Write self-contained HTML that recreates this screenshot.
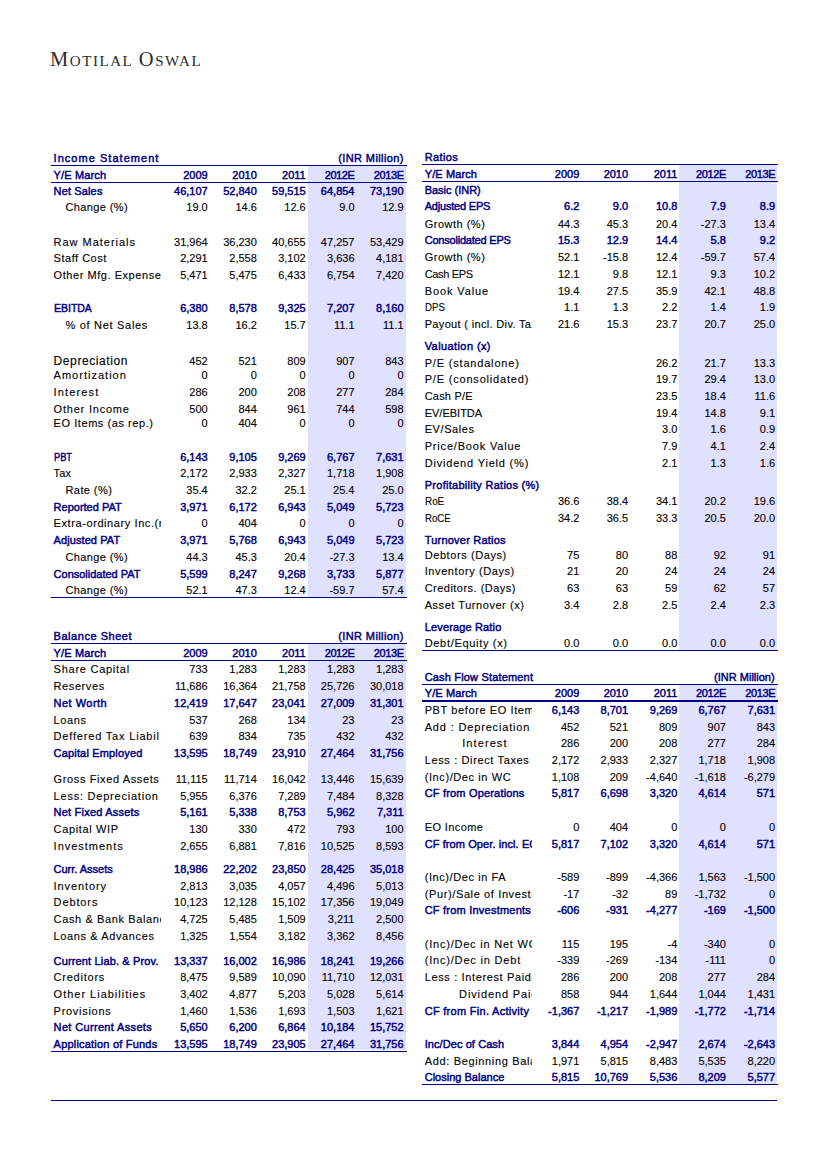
<!DOCTYPE html>
<html><head><meta charset="utf-8">
<style>
html,body{margin:0;padding:0;background:#fff;}
body{width:826px;height:1169px;position:relative;overflow:hidden;font-family:"Liberation Sans",sans-serif;}
.t{position:absolute;white-space:nowrap;line-height:20px;-webkit-text-stroke:0.12px #000;}
.ln{position:absolute;background:#000080;}
.sh{position:absolute;background:#e0e0ff;}
.logo{position:absolute;left:50px;top:43.5px;font-family:"Liberation Serif",serif;color:#2b2b2b;white-space:nowrap;line-height:30px;letter-spacing:1.55px;}
.logo .b{font-size:20.5px;}
.logo .s{font-size:15px;}
</style></head><body>
<div class="logo"><span class="b">M</span><span class="s">OTILAL</span> <span class="b">O</span><span class="s">SWAL</span></div>
<div class="sh" style="left:308.0px;top:166.3px;width:98.0px;height:430.7px"></div>
<div class="sh" style="left:308.0px;top:644.4px;width:98.0px;height:406.1px"></div>
<div class="sh" style="left:679.2px;top:164.8px;width:97.89999999999998px;height:485.2px"></div>
<div class="sh" style="left:679.2px;top:685.1px;width:97.89999999999998px;height:398.69999999999993px"></div>
<div class="t" style="top:148.1px;font-size:11px;color:#000080;-webkit-text-stroke:0.45px #000080;letter-spacing:1.033px;left:53.6px;">Income Statement</div>
<div class="t" style="top:148.1px;font-size:11px;color:#000080;-webkit-text-stroke:0.45px #000080;letter-spacing:0.4px;right:422.1px;text-align:right;">(INR Million)</div>
<div class="ln" style="left:51px;top:164.85px;width:355.7px;height:1.3px"></div>
<div class="t" style="top:165.1px;font-size:11px;color:#000080;-webkit-text-stroke:0.45px #000080;letter-spacing:0.15px;left:53.6px;">Y/E March</div>
<div class="t" style="top:165.1px;font-size:11px;color:#000080;-webkit-text-stroke:0.45px #000080;right:618.3px;text-align:right;">2009</div>
<div class="t" style="top:165.1px;font-size:11px;color:#000080;-webkit-text-stroke:0.45px #000080;right:569.2px;text-align:right;">2010</div>
<div class="t" style="top:165.1px;font-size:11px;color:#000080;-webkit-text-stroke:0.45px #000080;right:520.3px;text-align:right;">2011</div>
<div class="t" style="top:165.1px;font-size:11px;color:#000080;-webkit-text-stroke:0.45px #000080;letter-spacing:-0.4px;right:471.5px;text-align:right;">2012E</div>
<div class="t" style="top:165.1px;font-size:11px;color:#000080;-webkit-text-stroke:0.45px #000080;letter-spacing:-0.4px;right:422.4px;text-align:right;">2013E</div>
<div class="ln" style="left:51px;top:181.85px;width:355.7px;height:1.3px"></div>
<div class="t" style="top:181.0px;font-size:11px;color:#000080;-webkit-text-stroke:0.45px #000080;letter-spacing:0.137px;left:53.6px;">Net Sales</div>
<div class="t" style="top:181.0px;font-size:11px;color:#000080;-webkit-text-stroke:0.45px #000080;right:618.3px;text-align:right;">46,107</div>
<div class="t" style="top:181.0px;font-size:11px;color:#000080;-webkit-text-stroke:0.45px #000080;right:569.2px;text-align:right;">52,840</div>
<div class="t" style="top:181.0px;font-size:11px;color:#000080;-webkit-text-stroke:0.45px #000080;right:520.3px;text-align:right;">59,515</div>
<div class="t" style="top:181.0px;font-size:11px;color:#000080;-webkit-text-stroke:0.45px #000080;right:471.5px;text-align:right;">64,854</div>
<div class="t" style="top:181.0px;font-size:11px;color:#000080;-webkit-text-stroke:0.45px #000080;right:422.4px;text-align:right;">73,190</div>
<div class="t" style="top:197.3px;font-size:11px;color:#000;letter-spacing:0.389px;left:65.5px;">Change (%)</div>
<div class="t" style="top:197.3px;font-size:11px;color:#000;right:618.3px;text-align:right;">19.0</div>
<div class="t" style="top:197.3px;font-size:11px;color:#000;right:569.2px;text-align:right;">14.6</div>
<div class="t" style="top:197.3px;font-size:11px;color:#000;right:520.3px;text-align:right;">12.6</div>
<div class="t" style="top:197.3px;font-size:11px;color:#000;right:471.5px;text-align:right;">9.0</div>
<div class="t" style="top:197.3px;font-size:11px;color:#000;right:422.4px;text-align:right;">12.9</div>
<div class="t" style="top:231.8px;font-size:11px;color:#000;letter-spacing:0.976px;left:53.6px;">Raw Materials</div>
<div class="t" style="top:231.8px;font-size:11px;color:#000;right:618.3px;text-align:right;">31,964</div>
<div class="t" style="top:231.8px;font-size:11px;color:#000;right:569.2px;text-align:right;">36,230</div>
<div class="t" style="top:231.8px;font-size:11px;color:#000;right:520.3px;text-align:right;">40,655</div>
<div class="t" style="top:231.8px;font-size:11px;color:#000;right:471.5px;text-align:right;">47,257</div>
<div class="t" style="top:231.8px;font-size:11px;color:#000;right:422.4px;text-align:right;">53,429</div>
<div class="t" style="top:248.3px;font-size:11px;color:#000;letter-spacing:0.511px;left:53.6px;">Staff Cost</div>
<div class="t" style="top:248.3px;font-size:11px;color:#000;right:618.3px;text-align:right;">2,291</div>
<div class="t" style="top:248.3px;font-size:11px;color:#000;right:569.2px;text-align:right;">2,558</div>
<div class="t" style="top:248.3px;font-size:11px;color:#000;right:520.3px;text-align:right;">3,102</div>
<div class="t" style="top:248.3px;font-size:11px;color:#000;right:471.5px;text-align:right;">3,636</div>
<div class="t" style="top:248.3px;font-size:11px;color:#000;right:422.4px;text-align:right;">4,181</div>
<div class="t" style="top:265.2px;font-size:11px;color:#000;letter-spacing:0.552px;left:53.6px;">Other Mfg. Expense</div>
<div class="t" style="top:265.2px;font-size:11px;color:#000;right:618.3px;text-align:right;">5,471</div>
<div class="t" style="top:265.2px;font-size:11px;color:#000;right:569.2px;text-align:right;">5,475</div>
<div class="t" style="top:265.2px;font-size:11px;color:#000;right:520.3px;text-align:right;">6,433</div>
<div class="t" style="top:265.2px;font-size:11px;color:#000;right:471.5px;text-align:right;">6,754</div>
<div class="t" style="top:265.2px;font-size:11px;color:#000;right:422.4px;text-align:right;">7,420</div>
<div class="t" style="top:298.1px;font-size:11px;color:#000080;-webkit-text-stroke:0.45px #000080;transform:scaleX(0.952);transform-origin:0 0;left:53.6px;">EBITDA</div>
<div class="t" style="top:298.1px;font-size:11px;color:#000080;-webkit-text-stroke:0.45px #000080;right:618.3px;text-align:right;">6,380</div>
<div class="t" style="top:298.1px;font-size:11px;color:#000080;-webkit-text-stroke:0.45px #000080;right:569.2px;text-align:right;">8,578</div>
<div class="t" style="top:298.1px;font-size:11px;color:#000080;-webkit-text-stroke:0.45px #000080;right:520.3px;text-align:right;">9,325</div>
<div class="t" style="top:298.1px;font-size:11px;color:#000080;-webkit-text-stroke:0.45px #000080;right:471.5px;text-align:right;">7,207</div>
<div class="t" style="top:298.1px;font-size:11px;color:#000080;-webkit-text-stroke:0.45px #000080;right:422.4px;text-align:right;">8,160</div>
<div class="t" style="top:315.0px;font-size:11px;color:#000;letter-spacing:0.7px;left:65.5px;">% of Net Sales</div>
<div class="t" style="top:315.0px;font-size:11px;color:#000;right:618.3px;text-align:right;">13.8</div>
<div class="t" style="top:315.0px;font-size:11px;color:#000;right:569.2px;text-align:right;">16.2</div>
<div class="t" style="top:315.0px;font-size:11px;color:#000;right:520.3px;text-align:right;">15.7</div>
<div class="t" style="top:315.0px;font-size:11px;color:#000;right:471.5px;text-align:right;">11.1</div>
<div class="t" style="top:315.0px;font-size:11px;color:#000;right:422.4px;text-align:right;">11.1</div>
<div class="t" style="top:350.5px;font-size:12px;color:#000;letter-spacing:0.591px;left:53.6px;">Depreciation</div>
<div class="t" style="top:350.9px;font-size:11px;color:#000;right:618.3px;text-align:right;">452</div>
<div class="t" style="top:350.9px;font-size:11px;color:#000;right:569.2px;text-align:right;">521</div>
<div class="t" style="top:350.9px;font-size:11px;color:#000;right:520.3px;text-align:right;">809</div>
<div class="t" style="top:350.9px;font-size:11px;color:#000;right:471.5px;text-align:right;">907</div>
<div class="t" style="top:350.9px;font-size:11px;color:#000;right:422.4px;text-align:right;">843</div>
<div class="t" style="top:365.1px;font-size:11px;color:#000;letter-spacing:1.009px;left:53.6px;">Amortization</div>
<div class="t" style="top:365.1px;font-size:11px;color:#000;right:618.3px;text-align:right;">0</div>
<div class="t" style="top:365.1px;font-size:11px;color:#000;right:569.2px;text-align:right;">0</div>
<div class="t" style="top:365.1px;font-size:11px;color:#000;right:520.3px;text-align:right;">0</div>
<div class="t" style="top:365.1px;font-size:11px;color:#000;right:471.5px;text-align:right;">0</div>
<div class="t" style="top:365.1px;font-size:11px;color:#000;right:422.4px;text-align:right;">0</div>
<div class="t" style="top:382.3px;font-size:11px;color:#000;letter-spacing:1.129px;left:53.6px;">Interest</div>
<div class="t" style="top:382.3px;font-size:11px;color:#000;right:618.3px;text-align:right;">286</div>
<div class="t" style="top:382.3px;font-size:11px;color:#000;right:569.2px;text-align:right;">200</div>
<div class="t" style="top:382.3px;font-size:11px;color:#000;right:520.3px;text-align:right;">208</div>
<div class="t" style="top:382.3px;font-size:11px;color:#000;right:471.5px;text-align:right;">277</div>
<div class="t" style="top:382.3px;font-size:11px;color:#000;right:422.4px;text-align:right;">284</div>
<div class="t" style="top:399.0px;font-size:11px;color:#000;letter-spacing:0.791px;left:53.6px;">Other Income</div>
<div class="t" style="top:399.0px;font-size:11px;color:#000;right:618.3px;text-align:right;">500</div>
<div class="t" style="top:399.0px;font-size:11px;color:#000;right:569.2px;text-align:right;">844</div>
<div class="t" style="top:399.0px;font-size:11px;color:#000;right:520.3px;text-align:right;">961</div>
<div class="t" style="top:399.0px;font-size:11px;color:#000;right:471.5px;text-align:right;">744</div>
<div class="t" style="top:399.0px;font-size:11px;color:#000;right:422.4px;text-align:right;">598</div>
<div class="t" style="top:413.1px;font-size:11px;color:#000;letter-spacing:0.559px;left:53.6px;">EO Items (as rep.)</div>
<div class="t" style="top:413.1px;font-size:11px;color:#000;right:618.3px;text-align:right;">0</div>
<div class="t" style="top:413.1px;font-size:11px;color:#000;right:569.2px;text-align:right;">404</div>
<div class="t" style="top:413.1px;font-size:11px;color:#000;right:520.3px;text-align:right;">0</div>
<div class="t" style="top:413.1px;font-size:11px;color:#000;right:471.5px;text-align:right;">0</div>
<div class="t" style="top:413.1px;font-size:11px;color:#000;right:422.4px;text-align:right;">0</div>
<div class="t" style="top:447.0px;font-size:11px;color:#000080;-webkit-text-stroke:0.45px #000080;transform:scaleX(0.841);transform-origin:0 0;left:53.6px;">PBT</div>
<div class="t" style="top:447.0px;font-size:11px;color:#000080;-webkit-text-stroke:0.45px #000080;right:618.3px;text-align:right;">6,143</div>
<div class="t" style="top:447.0px;font-size:11px;color:#000080;-webkit-text-stroke:0.45px #000080;right:569.2px;text-align:right;">9,105</div>
<div class="t" style="top:447.0px;font-size:11px;color:#000080;-webkit-text-stroke:0.45px #000080;right:520.3px;text-align:right;">9,269</div>
<div class="t" style="top:447.0px;font-size:11px;color:#000080;-webkit-text-stroke:0.45px #000080;right:471.5px;text-align:right;">6,767</div>
<div class="t" style="top:447.0px;font-size:11px;color:#000080;-webkit-text-stroke:0.45px #000080;right:422.4px;text-align:right;">7,631</div>
<div class="t" style="top:462.9px;font-size:11px;color:#000;letter-spacing:0.15px;left:53.6px;">Tax</div>
<div class="t" style="top:462.9px;font-size:11px;color:#000;right:618.3px;text-align:right;">2,172</div>
<div class="t" style="top:462.9px;font-size:11px;color:#000;right:569.2px;text-align:right;">2,933</div>
<div class="t" style="top:462.9px;font-size:11px;color:#000;right:520.3px;text-align:right;">2,327</div>
<div class="t" style="top:462.9px;font-size:11px;color:#000;right:471.5px;text-align:right;">1,718</div>
<div class="t" style="top:462.9px;font-size:11px;color:#000;right:422.4px;text-align:right;">1,908</div>
<div class="t" style="top:479.8px;font-size:11px;color:#000;letter-spacing:0.414px;left:65.5px;">Rate (%)</div>
<div class="t" style="top:479.8px;font-size:11px;color:#000;right:618.3px;text-align:right;">35.4</div>
<div class="t" style="top:479.8px;font-size:11px;color:#000;right:569.2px;text-align:right;">32.2</div>
<div class="t" style="top:479.8px;font-size:11px;color:#000;right:520.3px;text-align:right;">25.1</div>
<div class="t" style="top:479.8px;font-size:11px;color:#000;right:471.5px;text-align:right;">25.4</div>
<div class="t" style="top:479.8px;font-size:11px;color:#000;right:422.4px;text-align:right;">25.0</div>
<div class="t" style="top:496.7px;font-size:11px;color:#000080;-webkit-text-stroke:0.45px #000080;letter-spacing:0.0px;left:53.6px;">Reported PAT</div>
<div class="t" style="top:496.7px;font-size:11px;color:#000080;-webkit-text-stroke:0.45px #000080;right:618.3px;text-align:right;">3,971</div>
<div class="t" style="top:496.7px;font-size:11px;color:#000080;-webkit-text-stroke:0.45px #000080;right:569.2px;text-align:right;">6,172</div>
<div class="t" style="top:496.7px;font-size:11px;color:#000080;-webkit-text-stroke:0.45px #000080;right:520.3px;text-align:right;">6,943</div>
<div class="t" style="top:496.7px;font-size:11px;color:#000080;-webkit-text-stroke:0.45px #000080;right:471.5px;text-align:right;">5,049</div>
<div class="t" style="top:496.7px;font-size:11px;color:#000080;-webkit-text-stroke:0.45px #000080;right:422.4px;text-align:right;">5,723</div>
<div class="t" style="top:513.2px;font-size:11px;color:#000;letter-spacing:0.584px;left:53.6px;width:107.4px;overflow:hidden;">Extra-ordinary Inc.(net)</div>
<div class="t" style="top:513.2px;font-size:11px;color:#000;right:618.3px;text-align:right;">0</div>
<div class="t" style="top:513.2px;font-size:11px;color:#000;right:569.2px;text-align:right;">404</div>
<div class="t" style="top:513.2px;font-size:11px;color:#000;right:520.3px;text-align:right;">0</div>
<div class="t" style="top:513.2px;font-size:11px;color:#000;right:471.5px;text-align:right;">0</div>
<div class="t" style="top:513.2px;font-size:11px;color:#000;right:422.4px;text-align:right;">0</div>
<div class="t" style="top:530.1px;font-size:11px;color:#000080;-webkit-text-stroke:0.45px #000080;letter-spacing:0.082px;left:53.6px;">Adjusted PAT</div>
<div class="t" style="top:530.1px;font-size:11px;color:#000080;-webkit-text-stroke:0.45px #000080;right:618.3px;text-align:right;">3,971</div>
<div class="t" style="top:530.1px;font-size:11px;color:#000080;-webkit-text-stroke:0.45px #000080;right:569.2px;text-align:right;">5,768</div>
<div class="t" style="top:530.1px;font-size:11px;color:#000080;-webkit-text-stroke:0.45px #000080;right:520.3px;text-align:right;">6,943</div>
<div class="t" style="top:530.1px;font-size:11px;color:#000080;-webkit-text-stroke:0.45px #000080;right:471.5px;text-align:right;">5,049</div>
<div class="t" style="top:530.1px;font-size:11px;color:#000080;-webkit-text-stroke:0.45px #000080;right:422.4px;text-align:right;">5,723</div>
<div class="t" style="top:546.8px;font-size:11px;color:#000;letter-spacing:0.389px;left:65.5px;">Change (%)</div>
<div class="t" style="top:546.8px;font-size:11px;color:#000;right:618.3px;text-align:right;">44.3</div>
<div class="t" style="top:546.8px;font-size:11px;color:#000;right:569.2px;text-align:right;">45.3</div>
<div class="t" style="top:546.8px;font-size:11px;color:#000;right:520.3px;text-align:right;">20.4</div>
<div class="t" style="top:546.8px;font-size:11px;color:#000;right:471.5px;text-align:right;">-27.3</div>
<div class="t" style="top:546.8px;font-size:11px;color:#000;right:422.4px;text-align:right;">13.4</div>
<div class="t" style="top:563.5px;font-size:11px;color:#000080;-webkit-text-stroke:0.45px #000080;letter-spacing:-0.013px;left:53.6px;">Consolidated PAT</div>
<div class="t" style="top:563.5px;font-size:11px;color:#000080;-webkit-text-stroke:0.45px #000080;right:618.3px;text-align:right;">5,599</div>
<div class="t" style="top:563.5px;font-size:11px;color:#000080;-webkit-text-stroke:0.45px #000080;right:569.2px;text-align:right;">8,247</div>
<div class="t" style="top:563.5px;font-size:11px;color:#000080;-webkit-text-stroke:0.45px #000080;right:520.3px;text-align:right;">9,268</div>
<div class="t" style="top:563.5px;font-size:11px;color:#000080;-webkit-text-stroke:0.45px #000080;right:471.5px;text-align:right;">3,733</div>
<div class="t" style="top:563.5px;font-size:11px;color:#000080;-webkit-text-stroke:0.45px #000080;right:422.4px;text-align:right;">5,877</div>
<div class="t" style="top:580.0px;font-size:11px;color:#000;letter-spacing:0.389px;left:65.5px;">Change (%)</div>
<div class="t" style="top:580.0px;font-size:11px;color:#000;right:618.3px;text-align:right;">52.1</div>
<div class="t" style="top:580.0px;font-size:11px;color:#000;right:569.2px;text-align:right;">47.3</div>
<div class="t" style="top:580.0px;font-size:11px;color:#000;right:520.3px;text-align:right;">12.4</div>
<div class="t" style="top:580.0px;font-size:11px;color:#000;right:471.5px;text-align:right;">-59.7</div>
<div class="t" style="top:580.0px;font-size:11px;color:#000;right:422.4px;text-align:right;">57.4</div>
<div class="ln" style="left:51px;top:596.85px;width:355.7px;height:1.3px"></div>
<div class="t" style="top:625.9px;font-size:11px;color:#000080;-webkit-text-stroke:0.45px #000080;letter-spacing:0.533px;left:53.6px;">Balance Sheet</div>
<div class="t" style="top:625.9px;font-size:11px;color:#000080;-webkit-text-stroke:0.45px #000080;letter-spacing:0.4px;right:422.1px;text-align:right;">(INR Million)</div>
<div class="ln" style="left:51px;top:642.85px;width:355.7px;height:1.3px"></div>
<div class="t" style="top:643.0px;font-size:11px;color:#000080;-webkit-text-stroke:0.45px #000080;letter-spacing:0.15px;left:53.6px;">Y/E March</div>
<div class="t" style="top:643.0px;font-size:11px;color:#000080;-webkit-text-stroke:0.45px #000080;right:618.3px;text-align:right;">2009</div>
<div class="t" style="top:643.0px;font-size:11px;color:#000080;-webkit-text-stroke:0.45px #000080;right:569.2px;text-align:right;">2010</div>
<div class="t" style="top:643.0px;font-size:11px;color:#000080;-webkit-text-stroke:0.45px #000080;right:520.3px;text-align:right;">2011</div>
<div class="t" style="top:643.0px;font-size:11px;color:#000080;-webkit-text-stroke:0.45px #000080;letter-spacing:-0.4px;right:471.5px;text-align:right;">2012E</div>
<div class="t" style="top:643.0px;font-size:11px;color:#000080;-webkit-text-stroke:0.45px #000080;letter-spacing:-0.4px;right:422.4px;text-align:right;">2013E</div>
<div class="ln" style="left:51px;top:659.85px;width:355.7px;height:1.3px"></div>
<div class="t" style="top:659.1px;font-size:11px;color:#000;letter-spacing:0.742px;left:53.6px;">Share Capital</div>
<div class="t" style="top:659.1px;font-size:11px;color:#000;right:618.3px;text-align:right;">733</div>
<div class="t" style="top:659.1px;font-size:11px;color:#000;right:569.2px;text-align:right;">1,283</div>
<div class="t" style="top:659.1px;font-size:11px;color:#000;right:520.3px;text-align:right;">1,283</div>
<div class="t" style="top:659.1px;font-size:11px;color:#000;right:471.5px;text-align:right;">1,283</div>
<div class="t" style="top:659.1px;font-size:11px;color:#000;right:422.4px;text-align:right;">1,283</div>
<div class="t" style="top:676.0px;font-size:11px;color:#000;letter-spacing:0.586px;left:53.6px;">Reserves</div>
<div class="t" style="top:676.0px;font-size:11px;color:#000;right:618.3px;text-align:right;">11,686</div>
<div class="t" style="top:676.0px;font-size:11px;color:#000;right:569.2px;text-align:right;">16,364</div>
<div class="t" style="top:676.0px;font-size:11px;color:#000;right:520.3px;text-align:right;">21,758</div>
<div class="t" style="top:676.0px;font-size:11px;color:#000;right:471.5px;text-align:right;">25,726</div>
<div class="t" style="top:676.0px;font-size:11px;color:#000;right:422.4px;text-align:right;">30,018</div>
<div class="t" style="top:693.0px;font-size:11px;color:#000080;-webkit-text-stroke:0.45px #000080;letter-spacing:0.475px;left:53.6px;">Net Worth</div>
<div class="t" style="top:693.0px;font-size:11px;color:#000080;-webkit-text-stroke:0.45px #000080;right:618.3px;text-align:right;">12,419</div>
<div class="t" style="top:693.0px;font-size:11px;color:#000080;-webkit-text-stroke:0.45px #000080;right:569.2px;text-align:right;">17,647</div>
<div class="t" style="top:693.0px;font-size:11px;color:#000080;-webkit-text-stroke:0.45px #000080;right:520.3px;text-align:right;">23,041</div>
<div class="t" style="top:693.0px;font-size:11px;color:#000080;-webkit-text-stroke:0.45px #000080;right:471.5px;text-align:right;">27,009</div>
<div class="t" style="top:693.0px;font-size:11px;color:#000080;-webkit-text-stroke:0.45px #000080;right:422.4px;text-align:right;">31,301</div>
<div class="t" style="top:709.9px;font-size:11px;color:#000;letter-spacing:0.6px;left:53.6px;">Loans</div>
<div class="t" style="top:709.9px;font-size:11px;color:#000;right:618.3px;text-align:right;">537</div>
<div class="t" style="top:709.9px;font-size:11px;color:#000;right:569.2px;text-align:right;">268</div>
<div class="t" style="top:709.9px;font-size:11px;color:#000;right:520.3px;text-align:right;">134</div>
<div class="t" style="top:709.9px;font-size:11px;color:#000;right:471.5px;text-align:right;">23</div>
<div class="t" style="top:709.9px;font-size:11px;color:#000;right:422.4px;text-align:right;">23</div>
<div class="t" style="top:726.4px;font-size:11px;color:#000;letter-spacing:0.817px;left:53.6px;width:107.4px;overflow:hidden;">Deffered Tax Liabil</div>
<div class="t" style="top:726.4px;font-size:11px;color:#000;right:618.3px;text-align:right;">639</div>
<div class="t" style="top:726.4px;font-size:11px;color:#000;right:569.2px;text-align:right;">834</div>
<div class="t" style="top:726.4px;font-size:11px;color:#000;right:520.3px;text-align:right;">735</div>
<div class="t" style="top:726.4px;font-size:11px;color:#000;right:471.5px;text-align:right;">432</div>
<div class="t" style="top:726.4px;font-size:11px;color:#000;right:422.4px;text-align:right;">432</div>
<div class="t" style="top:743.0px;font-size:11px;color:#000080;-webkit-text-stroke:0.45px #000080;letter-spacing:0.167px;left:53.6px;">Capital Employed</div>
<div class="t" style="top:743.0px;font-size:11px;color:#000080;-webkit-text-stroke:0.45px #000080;right:618.3px;text-align:right;">13,595</div>
<div class="t" style="top:743.0px;font-size:11px;color:#000080;-webkit-text-stroke:0.45px #000080;right:569.2px;text-align:right;">18,749</div>
<div class="t" style="top:743.0px;font-size:11px;color:#000080;-webkit-text-stroke:0.45px #000080;right:520.3px;text-align:right;">23,910</div>
<div class="t" style="top:743.0px;font-size:11px;color:#000080;-webkit-text-stroke:0.45px #000080;right:471.5px;text-align:right;">27,464</div>
<div class="t" style="top:743.0px;font-size:11px;color:#000080;-webkit-text-stroke:0.45px #000080;right:422.4px;text-align:right;">31,756</div>
<div class="t" style="top:769.0px;font-size:11px;color:#000;letter-spacing:0.618px;left:53.6px;">Gross Fixed Assets</div>
<div class="t" style="top:769.0px;font-size:11px;color:#000;right:618.3px;text-align:right;">11,115</div>
<div class="t" style="top:769.0px;font-size:11px;color:#000;right:569.2px;text-align:right;">11,714</div>
<div class="t" style="top:769.0px;font-size:11px;color:#000;right:520.3px;text-align:right;">16,042</div>
<div class="t" style="top:769.0px;font-size:11px;color:#000;right:471.5px;text-align:right;">13,446</div>
<div class="t" style="top:769.0px;font-size:11px;color:#000;right:422.4px;text-align:right;">15,639</div>
<div class="t" style="top:786.1px;font-size:11px;color:#000;letter-spacing:0.777px;left:53.6px;">Less: Depreciation</div>
<div class="t" style="top:786.1px;font-size:11px;color:#000;right:618.3px;text-align:right;">5,955</div>
<div class="t" style="top:786.1px;font-size:11px;color:#000;right:569.2px;text-align:right;">6,376</div>
<div class="t" style="top:786.1px;font-size:11px;color:#000;right:520.3px;text-align:right;">7,289</div>
<div class="t" style="top:786.1px;font-size:11px;color:#000;right:471.5px;text-align:right;">7,484</div>
<div class="t" style="top:786.1px;font-size:11px;color:#000;right:422.4px;text-align:right;">8,328</div>
<div class="t" style="top:801.8px;font-size:11px;color:#000080;-webkit-text-stroke:0.45px #000080;letter-spacing:0.207px;left:53.6px;">Net Fixed Assets</div>
<div class="t" style="top:801.8px;font-size:11px;color:#000080;-webkit-text-stroke:0.45px #000080;right:618.3px;text-align:right;">5,161</div>
<div class="t" style="top:801.8px;font-size:11px;color:#000080;-webkit-text-stroke:0.45px #000080;right:569.2px;text-align:right;">5,338</div>
<div class="t" style="top:801.8px;font-size:11px;color:#000080;-webkit-text-stroke:0.45px #000080;right:520.3px;text-align:right;">8,753</div>
<div class="t" style="top:801.8px;font-size:11px;color:#000080;-webkit-text-stroke:0.45px #000080;right:471.5px;text-align:right;">5,962</div>
<div class="t" style="top:801.8px;font-size:11px;color:#000080;-webkit-text-stroke:0.45px #000080;right:422.4px;text-align:right;">7,311</div>
<div class="t" style="top:819.0px;font-size:11px;color:#000;letter-spacing:0.65px;left:53.6px;">Capital WIP</div>
<div class="t" style="top:819.0px;font-size:11px;color:#000;right:618.3px;text-align:right;">130</div>
<div class="t" style="top:819.0px;font-size:11px;color:#000;right:569.2px;text-align:right;">330</div>
<div class="t" style="top:819.0px;font-size:11px;color:#000;right:520.3px;text-align:right;">472</div>
<div class="t" style="top:819.0px;font-size:11px;color:#000;right:471.5px;text-align:right;">793</div>
<div class="t" style="top:819.0px;font-size:11px;color:#000;right:422.4px;text-align:right;">100</div>
<div class="t" style="top:835.7px;font-size:11px;color:#000;letter-spacing:0.98px;left:53.6px;">Investments</div>
<div class="t" style="top:835.7px;font-size:11px;color:#000;right:618.3px;text-align:right;">2,655</div>
<div class="t" style="top:835.7px;font-size:11px;color:#000;right:569.2px;text-align:right;">6,881</div>
<div class="t" style="top:835.7px;font-size:11px;color:#000;right:520.3px;text-align:right;">7,816</div>
<div class="t" style="top:835.7px;font-size:11px;color:#000;right:471.5px;text-align:right;">10,525</div>
<div class="t" style="top:835.7px;font-size:11px;color:#000;right:422.4px;text-align:right;">8,593</div>
<div class="t" style="top:858.8px;font-size:11px;color:#000080;-webkit-text-stroke:0.45px #000080;letter-spacing:-0.018px;left:53.6px;">Curr. Assets</div>
<div class="t" style="top:858.8px;font-size:11px;color:#000080;-webkit-text-stroke:0.45px #000080;right:618.3px;text-align:right;">18,986</div>
<div class="t" style="top:858.8px;font-size:11px;color:#000080;-webkit-text-stroke:0.45px #000080;right:569.2px;text-align:right;">22,202</div>
<div class="t" style="top:858.8px;font-size:11px;color:#000080;-webkit-text-stroke:0.45px #000080;right:520.3px;text-align:right;">23,850</div>
<div class="t" style="top:858.8px;font-size:11px;color:#000080;-webkit-text-stroke:0.45px #000080;right:471.5px;text-align:right;">28,425</div>
<div class="t" style="top:858.8px;font-size:11px;color:#000080;-webkit-text-stroke:0.45px #000080;right:422.4px;text-align:right;">35,018</div>
<div class="t" style="top:876.0px;font-size:11px;color:#000;letter-spacing:0.889px;left:53.6px;">Inventory</div>
<div class="t" style="top:876.0px;font-size:11px;color:#000;right:618.3px;text-align:right;">2,813</div>
<div class="t" style="top:876.0px;font-size:11px;color:#000;right:569.2px;text-align:right;">3,035</div>
<div class="t" style="top:876.0px;font-size:11px;color:#000;right:520.3px;text-align:right;">4,057</div>
<div class="t" style="top:876.0px;font-size:11px;color:#000;right:471.5px;text-align:right;">4,496</div>
<div class="t" style="top:876.0px;font-size:11px;color:#000;right:422.4px;text-align:right;">5,013</div>
<div class="t" style="top:892.2px;font-size:11px;color:#000;letter-spacing:0.884px;left:53.6px;">Debtors</div>
<div class="t" style="top:892.2px;font-size:11px;color:#000;right:618.3px;text-align:right;">10,123</div>
<div class="t" style="top:892.2px;font-size:11px;color:#000;right:569.2px;text-align:right;">12,128</div>
<div class="t" style="top:892.2px;font-size:11px;color:#000;right:520.3px;text-align:right;">15,102</div>
<div class="t" style="top:892.2px;font-size:11px;color:#000;right:471.5px;text-align:right;">17,356</div>
<div class="t" style="top:892.2px;font-size:11px;color:#000;right:422.4px;text-align:right;">19,049</div>
<div class="t" style="top:909.1px;font-size:11px;color:#000;letter-spacing:0.625px;left:53.6px;width:107.4px;overflow:hidden;">Cash &amp; Bank Balance</div>
<div class="t" style="top:909.1px;font-size:11px;color:#000;right:618.3px;text-align:right;">4,725</div>
<div class="t" style="top:909.1px;font-size:11px;color:#000;right:569.2px;text-align:right;">5,485</div>
<div class="t" style="top:909.1px;font-size:11px;color:#000;right:520.3px;text-align:right;">1,509</div>
<div class="t" style="top:909.1px;font-size:11px;color:#000;right:471.5px;text-align:right;">3,211</div>
<div class="t" style="top:909.1px;font-size:11px;color:#000;right:422.4px;text-align:right;">2,500</div>
<div class="t" style="top:926.1px;font-size:11px;color:#000;letter-spacing:0.614px;left:53.6px;">Loans &amp; Advances</div>
<div class="t" style="top:926.1px;font-size:11px;color:#000;right:618.3px;text-align:right;">1,325</div>
<div class="t" style="top:926.1px;font-size:11px;color:#000;right:569.2px;text-align:right;">1,554</div>
<div class="t" style="top:926.1px;font-size:11px;color:#000;right:520.3px;text-align:right;">3,182</div>
<div class="t" style="top:926.1px;font-size:11px;color:#000;right:471.5px;text-align:right;">3,362</div>
<div class="t" style="top:926.1px;font-size:11px;color:#000;right:422.4px;text-align:right;">8,456</div>
<div class="t" style="top:950.7px;font-size:11px;color:#000080;-webkit-text-stroke:0.45px #000080;letter-spacing:0.15px;left:53.6px;">Current Liab. &amp; Prov.</div>
<div class="t" style="top:950.7px;font-size:11px;color:#000080;-webkit-text-stroke:0.45px #000080;right:618.3px;text-align:right;">13,337</div>
<div class="t" style="top:950.7px;font-size:11px;color:#000080;-webkit-text-stroke:0.45px #000080;right:569.2px;text-align:right;">16,002</div>
<div class="t" style="top:950.7px;font-size:11px;color:#000080;-webkit-text-stroke:0.45px #000080;right:520.3px;text-align:right;">16,986</div>
<div class="t" style="top:950.7px;font-size:11px;color:#000080;-webkit-text-stroke:0.45px #000080;right:471.5px;text-align:right;">18,241</div>
<div class="t" style="top:950.7px;font-size:11px;color:#000080;-webkit-text-stroke:0.45px #000080;right:422.4px;text-align:right;">19,266</div>
<div class="t" style="top:967.3px;font-size:11px;color:#000;letter-spacing:0.764px;left:53.6px;">Creditors</div>
<div class="t" style="top:967.3px;font-size:11px;color:#000;right:618.3px;text-align:right;">8,475</div>
<div class="t" style="top:967.3px;font-size:11px;color:#000;right:569.2px;text-align:right;">9,589</div>
<div class="t" style="top:967.3px;font-size:11px;color:#000;right:520.3px;text-align:right;">10,090</div>
<div class="t" style="top:967.3px;font-size:11px;color:#000;right:471.5px;text-align:right;">11,710</div>
<div class="t" style="top:967.3px;font-size:11px;color:#000;right:422.4px;text-align:right;">12,031</div>
<div class="t" style="top:984.2px;font-size:11px;color:#000;letter-spacing:0.988px;left:53.6px;">Other Liabilities</div>
<div class="t" style="top:984.2px;font-size:11px;color:#000;right:618.3px;text-align:right;">3,402</div>
<div class="t" style="top:984.2px;font-size:11px;color:#000;right:569.2px;text-align:right;">4,877</div>
<div class="t" style="top:984.2px;font-size:11px;color:#000;right:520.3px;text-align:right;">5,203</div>
<div class="t" style="top:984.2px;font-size:11px;color:#000;right:471.5px;text-align:right;">5,028</div>
<div class="t" style="top:984.2px;font-size:11px;color:#000;right:422.4px;text-align:right;">5,614</div>
<div class="t" style="top:1000.6px;font-size:11px;color:#000;letter-spacing:0.712px;left:53.6px;">Provisions</div>
<div class="t" style="top:1000.6px;font-size:11px;color:#000;right:618.3px;text-align:right;">1,460</div>
<div class="t" style="top:1000.6px;font-size:11px;color:#000;right:569.2px;text-align:right;">1,536</div>
<div class="t" style="top:1000.6px;font-size:11px;color:#000;right:520.3px;text-align:right;">1,693</div>
<div class="t" style="top:1000.6px;font-size:11px;color:#000;right:471.5px;text-align:right;">1,503</div>
<div class="t" style="top:1000.6px;font-size:11px;color:#000;right:422.4px;text-align:right;">1,621</div>
<div class="t" style="top:1017.1px;font-size:11px;color:#000080;-webkit-text-stroke:0.45px #000080;letter-spacing:0.344px;left:53.6px;">Net Current  Assets</div>
<div class="t" style="top:1017.1px;font-size:11px;color:#000080;-webkit-text-stroke:0.45px #000080;right:618.3px;text-align:right;">5,650</div>
<div class="t" style="top:1017.1px;font-size:11px;color:#000080;-webkit-text-stroke:0.45px #000080;right:569.2px;text-align:right;">6,200</div>
<div class="t" style="top:1017.1px;font-size:11px;color:#000080;-webkit-text-stroke:0.45px #000080;right:520.3px;text-align:right;">6,864</div>
<div class="t" style="top:1017.1px;font-size:11px;color:#000080;-webkit-text-stroke:0.45px #000080;right:471.5px;text-align:right;">10,184</div>
<div class="t" style="top:1017.1px;font-size:11px;color:#000080;-webkit-text-stroke:0.45px #000080;right:422.4px;text-align:right;">15,752</div>
<div class="t" style="top:1034.0px;font-size:11px;color:#000080;-webkit-text-stroke:0.45px #000080;letter-spacing:0.205px;left:53.6px;">Application of Funds</div>
<div class="t" style="top:1034.0px;font-size:11px;color:#000080;-webkit-text-stroke:0.45px #000080;right:618.3px;text-align:right;">13,595</div>
<div class="t" style="top:1034.0px;font-size:11px;color:#000080;-webkit-text-stroke:0.45px #000080;right:569.2px;text-align:right;">18,749</div>
<div class="t" style="top:1034.0px;font-size:11px;color:#000080;-webkit-text-stroke:0.45px #000080;right:520.3px;text-align:right;">23,905</div>
<div class="t" style="top:1034.0px;font-size:11px;color:#000080;-webkit-text-stroke:0.45px #000080;right:471.5px;text-align:right;">27,464</div>
<div class="t" style="top:1034.0px;font-size:11px;color:#000080;-webkit-text-stroke:0.45px #000080;right:422.4px;text-align:right;">31,756</div>
<div class="ln" style="left:51px;top:1050.85px;width:355.7px;height:1.3px"></div>
<div class="t" style="top:146.8px;font-size:11px;color:#000080;-webkit-text-stroke:0.45px #000080;letter-spacing:0.38px;left:424.7px;">Ratios</div>
<div class="ln" style="left:422px;top:163.85px;width:355.5px;height:1.3px"></div>
<div class="t" style="top:164.1px;font-size:11px;color:#000080;-webkit-text-stroke:0.45px #000080;letter-spacing:0.113px;left:424.7px;">Y/E March</div>
<div class="t" style="top:164.1px;font-size:11px;color:#000080;-webkit-text-stroke:0.45px #000080;right:246.7px;text-align:right;">2009</div>
<div class="t" style="top:164.1px;font-size:11px;color:#000080;-webkit-text-stroke:0.45px #000080;right:197.9px;text-align:right;">2010</div>
<div class="t" style="top:164.1px;font-size:11px;color:#000080;-webkit-text-stroke:0.45px #000080;right:148.7px;text-align:right;">2011</div>
<div class="t" style="top:164.1px;font-size:11px;color:#000080;-webkit-text-stroke:0.45px #000080;letter-spacing:-0.4px;right:100.1px;text-align:right;">2012E</div>
<div class="t" style="top:164.1px;font-size:11px;color:#000080;-webkit-text-stroke:0.45px #000080;letter-spacing:-0.4px;right:50.9px;text-align:right;">2013E</div>
<div class="ln" style="left:422px;top:180.85px;width:355.5px;height:1.3px"></div>
<div class="t" style="top:179.5px;font-size:11px;color:#000080;-webkit-text-stroke:0.45px #000080;letter-spacing:-0.02px;left:424.7px;">Basic (INR)</div>
<div class="t" style="top:196.4px;font-size:11px;color:#000080;-webkit-text-stroke:0.45px #000080;letter-spacing:-0.191px;left:424.7px;">Adjusted EPS</div>
<div class="t" style="top:196.4px;font-size:11px;color:#000080;-webkit-text-stroke:0.45px #000080;right:246.7px;text-align:right;">6.2</div>
<div class="t" style="top:196.4px;font-size:11px;color:#000080;-webkit-text-stroke:0.45px #000080;right:197.9px;text-align:right;">9.0</div>
<div class="t" style="top:196.4px;font-size:11px;color:#000080;-webkit-text-stroke:0.45px #000080;right:148.7px;text-align:right;">10.8</div>
<div class="t" style="top:196.4px;font-size:11px;color:#000080;-webkit-text-stroke:0.45px #000080;right:100.1px;text-align:right;">7.9</div>
<div class="t" style="top:196.4px;font-size:11px;color:#000080;-webkit-text-stroke:0.45px #000080;right:50.9px;text-align:right;">8.9</div>
<div class="t" style="top:213.9px;font-size:11px;color:#000;letter-spacing:0.5px;left:424.7px;">Growth (%)</div>
<div class="t" style="top:213.9px;font-size:11px;color:#000;right:246.7px;text-align:right;">44.3</div>
<div class="t" style="top:213.9px;font-size:11px;color:#000;right:197.9px;text-align:right;">45.3</div>
<div class="t" style="top:213.9px;font-size:11px;color:#000;right:148.7px;text-align:right;">20.4</div>
<div class="t" style="top:213.9px;font-size:11px;color:#000;right:100.1px;text-align:right;">-27.3</div>
<div class="t" style="top:213.9px;font-size:11px;color:#000;right:50.9px;text-align:right;">13.4</div>
<div class="t" style="top:230.3px;font-size:11px;color:#000080;-webkit-text-stroke:0.45px #000080;letter-spacing:-0.207px;left:424.7px;">Consolidated EPS</div>
<div class="t" style="top:230.3px;font-size:11px;color:#000080;-webkit-text-stroke:0.45px #000080;right:246.7px;text-align:right;">15.3</div>
<div class="t" style="top:230.3px;font-size:11px;color:#000080;-webkit-text-stroke:0.45px #000080;right:197.9px;text-align:right;">12.9</div>
<div class="t" style="top:230.3px;font-size:11px;color:#000080;-webkit-text-stroke:0.45px #000080;right:148.7px;text-align:right;">14.4</div>
<div class="t" style="top:230.3px;font-size:11px;color:#000080;-webkit-text-stroke:0.45px #000080;right:100.1px;text-align:right;">5.8</div>
<div class="t" style="top:230.3px;font-size:11px;color:#000080;-webkit-text-stroke:0.45px #000080;right:50.9px;text-align:right;">9.2</div>
<div class="t" style="top:246.7px;font-size:11px;color:#000;letter-spacing:0.5px;left:424.7px;">Growth (%)</div>
<div class="t" style="top:246.7px;font-size:11px;color:#000;right:246.7px;text-align:right;">52.1</div>
<div class="t" style="top:246.7px;font-size:11px;color:#000;right:197.9px;text-align:right;">-15.8</div>
<div class="t" style="top:246.7px;font-size:11px;color:#000;right:148.7px;text-align:right;">12.4</div>
<div class="t" style="top:246.7px;font-size:11px;color:#000;right:100.1px;text-align:right;">-59.7</div>
<div class="t" style="top:246.7px;font-size:11px;color:#000;right:50.9px;text-align:right;">57.4</div>
<div class="t" style="top:264.2px;font-size:11px;color:#000;letter-spacing:-0.328px;left:424.7px;">Cash EPS</div>
<div class="t" style="top:264.2px;font-size:11px;color:#000;right:246.7px;text-align:right;">12.1</div>
<div class="t" style="top:264.2px;font-size:11px;color:#000;right:197.9px;text-align:right;">9.8</div>
<div class="t" style="top:264.2px;font-size:11px;color:#000;right:148.7px;text-align:right;">12.1</div>
<div class="t" style="top:264.2px;font-size:11px;color:#000;right:100.1px;text-align:right;">9.3</div>
<div class="t" style="top:264.2px;font-size:11px;color:#000;right:50.9px;text-align:right;">10.2</div>
<div class="t" style="top:280.6px;font-size:11px;color:#000;letter-spacing:0.901px;left:424.7px;">Book Value</div>
<div class="t" style="top:280.6px;font-size:11px;color:#000;right:246.7px;text-align:right;">19.4</div>
<div class="t" style="top:280.6px;font-size:11px;color:#000;right:197.9px;text-align:right;">27.5</div>
<div class="t" style="top:280.6px;font-size:11px;color:#000;right:148.7px;text-align:right;">35.9</div>
<div class="t" style="top:280.6px;font-size:11px;color:#000;right:100.1px;text-align:right;">42.1</div>
<div class="t" style="top:280.6px;font-size:11px;color:#000;right:50.9px;text-align:right;">48.8</div>
<div class="t" style="top:297.0px;font-size:11px;color:#000;transform:scaleX(0.876);transform-origin:0 0;left:424.7px;">DPS</div>
<div class="t" style="top:297.0px;font-size:11px;color:#000;right:246.7px;text-align:right;">1.1</div>
<div class="t" style="top:297.0px;font-size:11px;color:#000;right:197.9px;text-align:right;">1.3</div>
<div class="t" style="top:297.0px;font-size:11px;color:#000;right:148.7px;text-align:right;">2.2</div>
<div class="t" style="top:297.0px;font-size:11px;color:#000;right:100.1px;text-align:right;">1.4</div>
<div class="t" style="top:297.0px;font-size:11px;color:#000;right:50.9px;text-align:right;">1.9</div>
<div class="t" style="top:314.0px;font-size:11px;color:#000;letter-spacing:0.333px;left:424.7px;width:107.3px;overflow:hidden;">Payout ( incl. Div. Tax)</div>
<div class="t" style="top:314.0px;font-size:11px;color:#000;right:246.7px;text-align:right;">21.6</div>
<div class="t" style="top:314.0px;font-size:11px;color:#000;right:197.9px;text-align:right;">15.3</div>
<div class="t" style="top:314.0px;font-size:11px;color:#000;right:148.7px;text-align:right;">23.7</div>
<div class="t" style="top:314.0px;font-size:11px;color:#000;right:100.1px;text-align:right;">20.7</div>
<div class="t" style="top:314.0px;font-size:11px;color:#000;right:50.9px;text-align:right;">25.0</div>
<div class="t" style="top:336.1px;font-size:11px;color:#000080;-webkit-text-stroke:0.45px #000080;letter-spacing:0.408px;left:424.7px;">Valuation (x)</div>
<div class="t" style="top:353.0px;font-size:11px;color:#000;letter-spacing:0.814px;left:424.7px;">P/E (standalone)</div>
<div class="t" style="top:353.0px;font-size:11px;color:#000;right:148.7px;text-align:right;">26.2</div>
<div class="t" style="top:353.0px;font-size:11px;color:#000;right:100.1px;text-align:right;">21.7</div>
<div class="t" style="top:353.0px;font-size:11px;color:#000;right:50.9px;text-align:right;">13.3</div>
<div class="t" style="top:369.0px;font-size:11px;color:#000;letter-spacing:0.811px;left:424.7px;">P/E (consolidated)</div>
<div class="t" style="top:369.0px;font-size:11px;color:#000;right:148.7px;text-align:right;">19.7</div>
<div class="t" style="top:369.0px;font-size:11px;color:#000;right:100.1px;text-align:right;">29.4</div>
<div class="t" style="top:369.0px;font-size:11px;color:#000;right:50.9px;text-align:right;">13.0</div>
<div class="t" style="top:386.0px;font-size:11px;color:#000;letter-spacing:0.199px;left:424.7px;">Cash P/E</div>
<div class="t" style="top:386.0px;font-size:11px;color:#000;right:148.7px;text-align:right;">23.5</div>
<div class="t" style="top:386.0px;font-size:11px;color:#000;right:100.1px;text-align:right;">18.4</div>
<div class="t" style="top:386.0px;font-size:11px;color:#000;right:50.9px;text-align:right;">11.6</div>
<div class="t" style="top:402.9px;font-size:11px;color:#000;letter-spacing:-0.0px;left:424.7px;">EV/EBITDA</div>
<div class="t" style="top:402.9px;font-size:11px;color:#000;right:148.7px;text-align:right;">19.4</div>
<div class="t" style="top:402.9px;font-size:11px;color:#000;right:100.1px;text-align:right;">14.8</div>
<div class="t" style="top:402.9px;font-size:11px;color:#000;right:50.9px;text-align:right;">9.1</div>
<div class="t" style="top:418.8px;font-size:11px;color:#000;letter-spacing:0.586px;left:424.7px;">EV/Sales</div>
<div class="t" style="top:418.8px;font-size:11px;color:#000;right:148.7px;text-align:right;">3.0</div>
<div class="t" style="top:418.8px;font-size:11px;color:#000;right:100.1px;text-align:right;">1.6</div>
<div class="t" style="top:418.8px;font-size:11px;color:#000;right:50.9px;text-align:right;">0.9</div>
<div class="t" style="top:435.8px;font-size:11px;color:#000;letter-spacing:0.814px;left:424.7px;">Price/Book Value</div>
<div class="t" style="top:435.8px;font-size:11px;color:#000;right:148.7px;text-align:right;">7.9</div>
<div class="t" style="top:435.8px;font-size:11px;color:#000;right:100.1px;text-align:right;">4.1</div>
<div class="t" style="top:435.8px;font-size:11px;color:#000;right:50.9px;text-align:right;">2.4</div>
<div class="t" style="top:452.7px;font-size:11px;color:#000;letter-spacing:0.811px;left:424.7px;">Dividend Yield (%)</div>
<div class="t" style="top:452.7px;font-size:11px;color:#000;right:148.7px;text-align:right;">2.1</div>
<div class="t" style="top:452.7px;font-size:11px;color:#000;right:100.1px;text-align:right;">1.3</div>
<div class="t" style="top:452.7px;font-size:11px;color:#000;right:50.9px;text-align:right;">1.6</div>
<div class="t" style="top:475.1px;font-size:11px;color:#000080;-webkit-text-stroke:0.45px #000080;letter-spacing:0.278px;left:424.7px;">Profitability Ratios (%)</div>
<div class="t" style="top:491.0px;font-size:11px;color:#000;transform:scaleX(0.897);transform-origin:0 0;left:424.7px;">RoE</div>
<div class="t" style="top:491.0px;font-size:11px;color:#000;right:246.7px;text-align:right;">36.6</div>
<div class="t" style="top:491.0px;font-size:11px;color:#000;right:197.9px;text-align:right;">38.4</div>
<div class="t" style="top:491.0px;font-size:11px;color:#000;right:148.7px;text-align:right;">34.1</div>
<div class="t" style="top:491.0px;font-size:11px;color:#000;right:100.1px;text-align:right;">20.2</div>
<div class="t" style="top:491.0px;font-size:11px;color:#000;right:50.9px;text-align:right;">19.6</div>
<div class="t" style="top:507.9px;font-size:11px;color:#000;transform:scaleX(0.877);transform-origin:0 0;left:424.7px;">RoCE</div>
<div class="t" style="top:507.9px;font-size:11px;color:#000;right:246.7px;text-align:right;">34.2</div>
<div class="t" style="top:507.9px;font-size:11px;color:#000;right:197.9px;text-align:right;">36.5</div>
<div class="t" style="top:507.9px;font-size:11px;color:#000;right:148.7px;text-align:right;">33.3</div>
<div class="t" style="top:507.9px;font-size:11px;color:#000;right:100.1px;text-align:right;">20.5</div>
<div class="t" style="top:507.9px;font-size:11px;color:#000;right:50.9px;text-align:right;">20.0</div>
<div class="t" style="top:529.5px;font-size:11px;color:#000080;-webkit-text-stroke:0.45px #000080;letter-spacing:0.221px;left:424.7px;">Turnover Ratios</div>
<div class="t" style="top:544.9px;font-size:11px;color:#000;letter-spacing:0.584px;left:424.7px;">Debtors (Days)</div>
<div class="t" style="top:544.9px;font-size:11px;color:#000;right:246.7px;text-align:right;">75</div>
<div class="t" style="top:544.9px;font-size:11px;color:#000;right:197.9px;text-align:right;">80</div>
<div class="t" style="top:544.9px;font-size:11px;color:#000;right:148.7px;text-align:right;">88</div>
<div class="t" style="top:544.9px;font-size:11px;color:#000;right:100.1px;text-align:right;">92</div>
<div class="t" style="top:544.9px;font-size:11px;color:#000;right:50.9px;text-align:right;">91</div>
<div class="t" style="top:561.3px;font-size:11px;color:#000;letter-spacing:0.593px;left:424.7px;">Inventory (Days)</div>
<div class="t" style="top:561.3px;font-size:11px;color:#000;right:246.7px;text-align:right;">21</div>
<div class="t" style="top:561.3px;font-size:11px;color:#000;right:197.9px;text-align:right;">20</div>
<div class="t" style="top:561.3px;font-size:11px;color:#000;right:148.7px;text-align:right;">24</div>
<div class="t" style="top:561.3px;font-size:11px;color:#000;right:100.1px;text-align:right;">24</div>
<div class="t" style="top:561.3px;font-size:11px;color:#000;right:50.9px;text-align:right;">24</div>
<div class="t" style="top:578.3px;font-size:11px;color:#000;letter-spacing:0.474px;left:424.7px;">Creditors. (Days)</div>
<div class="t" style="top:578.3px;font-size:11px;color:#000;right:246.7px;text-align:right;">63</div>
<div class="t" style="top:578.3px;font-size:11px;color:#000;right:197.9px;text-align:right;">63</div>
<div class="t" style="top:578.3px;font-size:11px;color:#000;right:148.7px;text-align:right;">59</div>
<div class="t" style="top:578.3px;font-size:11px;color:#000;right:100.1px;text-align:right;">62</div>
<div class="t" style="top:578.3px;font-size:11px;color:#000;right:50.9px;text-align:right;">57</div>
<div class="t" style="top:594.7px;font-size:11px;color:#000;letter-spacing:0.547px;left:424.7px;">Asset Turnover (x)</div>
<div class="t" style="top:594.7px;font-size:11px;color:#000;right:246.7px;text-align:right;">3.4</div>
<div class="t" style="top:594.7px;font-size:11px;color:#000;right:197.9px;text-align:right;">2.8</div>
<div class="t" style="top:594.7px;font-size:11px;color:#000;right:148.7px;text-align:right;">2.5</div>
<div class="t" style="top:594.7px;font-size:11px;color:#000;right:100.1px;text-align:right;">2.4</div>
<div class="t" style="top:594.7px;font-size:11px;color:#000;right:50.9px;text-align:right;">2.3</div>
<div class="t" style="top:616.8px;font-size:11px;color:#000080;-webkit-text-stroke:0.45px #000080;letter-spacing:0.154px;left:424.7px;">Leverage Ratio</div>
<div class="t" style="top:633.2px;font-size:11px;color:#000;letter-spacing:0.685px;left:424.7px;">Debt/Equity (x)</div>
<div class="t" style="top:633.2px;font-size:11px;color:#000;right:246.7px;text-align:right;">0.0</div>
<div class="t" style="top:633.2px;font-size:11px;color:#000;right:197.9px;text-align:right;">0.0</div>
<div class="t" style="top:633.2px;font-size:11px;color:#000;right:148.7px;text-align:right;">0.0</div>
<div class="t" style="top:633.2px;font-size:11px;color:#000;right:100.1px;text-align:right;">0.0</div>
<div class="t" style="top:633.2px;font-size:11px;color:#000;right:50.9px;text-align:right;">0.0</div>
<div class="ln" style="left:422px;top:649.85px;width:355.5px;height:1.3px"></div>
<div class="t" style="top:667.1px;font-size:11px;color:#000080;-webkit-text-stroke:0.45px #000080;letter-spacing:0.172px;left:424.7px;">Cash Flow Statement</div>
<div class="t" style="top:667.1px;font-size:11px;color:#000080;-webkit-text-stroke:0.45px #000080;letter-spacing:0px;right:51.4px;text-align:right;">(INR Million)</div>
<div class="ln" style="left:422px;top:683.85px;width:355.5px;height:1.3px"></div>
<div class="t" style="top:683.0px;font-size:11px;color:#000080;-webkit-text-stroke:0.45px #000080;letter-spacing:0.113px;left:424.7px;">Y/E March</div>
<div class="t" style="top:683.0px;font-size:11px;color:#000080;-webkit-text-stroke:0.45px #000080;right:246.7px;text-align:right;">2009</div>
<div class="t" style="top:683.0px;font-size:11px;color:#000080;-webkit-text-stroke:0.45px #000080;right:197.9px;text-align:right;">2010</div>
<div class="t" style="top:683.0px;font-size:11px;color:#000080;-webkit-text-stroke:0.45px #000080;right:148.7px;text-align:right;">2011</div>
<div class="t" style="top:683.0px;font-size:11px;color:#000080;-webkit-text-stroke:0.45px #000080;letter-spacing:-0.4px;right:100.1px;text-align:right;">2012E</div>
<div class="t" style="top:683.0px;font-size:11px;color:#000080;-webkit-text-stroke:0.45px #000080;letter-spacing:-0.4px;right:50.9px;text-align:right;">2013E</div>
<div class="ln" style="left:422px;top:699.50px;width:355.5px;height:2.0px"></div>
<div class="t" style="top:700.1px;font-size:11px;color:#000;letter-spacing:0.6px;left:424.7px;width:107.3px;overflow:hidden;">PBT before EO Item</div>
<div class="t" style="top:700.1px;font-size:11px;color:#000080;-webkit-text-stroke:0.45px #000080;right:246.7px;text-align:right;">6,143</div>
<div class="t" style="top:700.1px;font-size:11px;color:#000080;-webkit-text-stroke:0.45px #000080;right:197.9px;text-align:right;">8,701</div>
<div class="t" style="top:700.1px;font-size:11px;color:#000080;-webkit-text-stroke:0.45px #000080;right:148.7px;text-align:right;">9,269</div>
<div class="t" style="top:700.1px;font-size:11px;color:#000080;-webkit-text-stroke:0.45px #000080;right:100.1px;text-align:right;">6,767</div>
<div class="t" style="top:700.1px;font-size:11px;color:#000080;-webkit-text-stroke:0.45px #000080;right:50.9px;text-align:right;">7,631</div>
<div class="t" style="top:717.0px;font-size:11px;color:#000;letter-spacing:0.836px;left:424.7px;">Add : Depreciation</div>
<div class="t" style="top:717.0px;font-size:11px;color:#000;right:246.7px;text-align:right;">452</div>
<div class="t" style="top:717.0px;font-size:11px;color:#000;right:197.9px;text-align:right;">521</div>
<div class="t" style="top:717.0px;font-size:11px;color:#000;right:148.7px;text-align:right;">809</div>
<div class="t" style="top:717.0px;font-size:11px;color:#000;right:100.1px;text-align:right;">907</div>
<div class="t" style="top:717.0px;font-size:11px;color:#000;right:50.9px;text-align:right;">843</div>
<div class="t" style="top:732.9px;font-size:11px;color:#000;letter-spacing:1.087px;left:462.2px;">Interest</div>
<div class="t" style="top:732.9px;font-size:11px;color:#000;right:246.7px;text-align:right;">286</div>
<div class="t" style="top:732.9px;font-size:11px;color:#000;right:197.9px;text-align:right;">200</div>
<div class="t" style="top:732.9px;font-size:11px;color:#000;right:148.7px;text-align:right;">208</div>
<div class="t" style="top:732.9px;font-size:11px;color:#000;right:100.1px;text-align:right;">277</div>
<div class="t" style="top:732.9px;font-size:11px;color:#000;right:50.9px;text-align:right;">284</div>
<div class="t" style="top:749.9px;font-size:11px;color:#000;letter-spacing:0.633px;left:424.7px;width:107.3px;overflow:hidden;">Less : Direct Taxes Paid</div>
<div class="t" style="top:749.9px;font-size:11px;color:#000;right:246.7px;text-align:right;">2,172</div>
<div class="t" style="top:749.9px;font-size:11px;color:#000;right:197.9px;text-align:right;">2,933</div>
<div class="t" style="top:749.9px;font-size:11px;color:#000;right:148.7px;text-align:right;">2,327</div>
<div class="t" style="top:749.9px;font-size:11px;color:#000;right:100.1px;text-align:right;">1,718</div>
<div class="t" style="top:749.9px;font-size:11px;color:#000;right:50.9px;text-align:right;">1,908</div>
<div class="t" style="top:766.8px;font-size:11px;color:#000;letter-spacing:0.593px;left:424.7px;">(Inc)/Dec in WC</div>
<div class="t" style="top:766.8px;font-size:11px;color:#000;right:246.7px;text-align:right;">1,108</div>
<div class="t" style="top:766.8px;font-size:11px;color:#000;right:197.9px;text-align:right;">209</div>
<div class="t" style="top:766.8px;font-size:11px;color:#000;right:148.7px;text-align:right;">-4,640</div>
<div class="t" style="top:766.8px;font-size:11px;color:#000;right:100.1px;text-align:right;">-1,618</div>
<div class="t" style="top:766.8px;font-size:11px;color:#000;right:50.9px;text-align:right;">-6,279</div>
<div class="t" style="top:783.2px;font-size:11px;color:#000080;-webkit-text-stroke:0.45px #000080;letter-spacing:0.182px;left:424.7px;">CF from Operations</div>
<div class="t" style="top:783.2px;font-size:11px;color:#000080;-webkit-text-stroke:0.45px #000080;right:246.7px;text-align:right;">5,817</div>
<div class="t" style="top:783.2px;font-size:11px;color:#000080;-webkit-text-stroke:0.45px #000080;right:197.9px;text-align:right;">6,698</div>
<div class="t" style="top:783.2px;font-size:11px;color:#000080;-webkit-text-stroke:0.45px #000080;right:148.7px;text-align:right;">3,320</div>
<div class="t" style="top:783.2px;font-size:11px;color:#000080;-webkit-text-stroke:0.45px #000080;right:100.1px;text-align:right;">4,614</div>
<div class="t" style="top:783.2px;font-size:11px;color:#000080;-webkit-text-stroke:0.45px #000080;right:50.9px;text-align:right;">571</div>
<div class="t" style="top:817.3px;font-size:11px;color:#000;letter-spacing:0.4px;left:424.7px;">EO Income</div>
<div class="t" style="top:817.3px;font-size:11px;color:#000;right:246.7px;text-align:right;">0</div>
<div class="t" style="top:817.3px;font-size:11px;color:#000;right:197.9px;text-align:right;">404</div>
<div class="t" style="top:817.3px;font-size:11px;color:#000;right:148.7px;text-align:right;">0</div>
<div class="t" style="top:817.3px;font-size:11px;color:#000;right:100.1px;text-align:right;">0</div>
<div class="t" style="top:817.3px;font-size:11px;color:#000;right:50.9px;text-align:right;">0</div>
<div class="t" style="top:833.7px;font-size:11px;color:#000080;-webkit-text-stroke:0.45px #000080;letter-spacing:0.093px;left:424.7px;width:107.3px;overflow:hidden;">CF from Oper. incl. EO</div>
<div class="t" style="top:833.7px;font-size:11px;color:#000080;-webkit-text-stroke:0.45px #000080;right:246.7px;text-align:right;">5,817</div>
<div class="t" style="top:833.7px;font-size:11px;color:#000080;-webkit-text-stroke:0.45px #000080;right:197.9px;text-align:right;">7,102</div>
<div class="t" style="top:833.7px;font-size:11px;color:#000080;-webkit-text-stroke:0.45px #000080;right:148.7px;text-align:right;">3,320</div>
<div class="t" style="top:833.7px;font-size:11px;color:#000080;-webkit-text-stroke:0.45px #000080;right:100.1px;text-align:right;">4,614</div>
<div class="t" style="top:833.7px;font-size:11px;color:#000080;-webkit-text-stroke:0.45px #000080;right:50.9px;text-align:right;">571</div>
<div class="t" style="top:867.1px;font-size:11px;color:#000;letter-spacing:0.579px;left:424.7px;">(Inc)/Dec in FA</div>
<div class="t" style="top:867.1px;font-size:11px;color:#000;right:246.7px;text-align:right;">-589</div>
<div class="t" style="top:867.1px;font-size:11px;color:#000;right:197.9px;text-align:right;">-899</div>
<div class="t" style="top:867.1px;font-size:11px;color:#000;right:148.7px;text-align:right;">-4,366</div>
<div class="t" style="top:867.1px;font-size:11px;color:#000;right:100.1px;text-align:right;">1,563</div>
<div class="t" style="top:867.1px;font-size:11px;color:#000;right:50.9px;text-align:right;">-1,500</div>
<div class="t" style="top:884.0px;font-size:11px;color:#000;letter-spacing:0.622px;left:424.7px;width:107.3px;overflow:hidden;">(Pur)/Sale of Investments</div>
<div class="t" style="top:884.0px;font-size:11px;color:#000;right:246.7px;text-align:right;">-17</div>
<div class="t" style="top:884.0px;font-size:11px;color:#000;right:197.9px;text-align:right;">-32</div>
<div class="t" style="top:884.0px;font-size:11px;color:#000;right:148.7px;text-align:right;">89</div>
<div class="t" style="top:884.0px;font-size:11px;color:#000;right:100.1px;text-align:right;">-1,732</div>
<div class="t" style="top:884.0px;font-size:11px;color:#000;right:50.9px;text-align:right;">0</div>
<div class="t" style="top:899.9px;font-size:11px;color:#000080;-webkit-text-stroke:0.45px #000080;letter-spacing:0.222px;left:424.7px;">CF from Investments</div>
<div class="t" style="top:899.9px;font-size:11px;color:#000080;-webkit-text-stroke:0.45px #000080;right:246.7px;text-align:right;">-606</div>
<div class="t" style="top:899.9px;font-size:11px;color:#000080;-webkit-text-stroke:0.45px #000080;right:197.9px;text-align:right;">-931</div>
<div class="t" style="top:899.9px;font-size:11px;color:#000080;-webkit-text-stroke:0.45px #000080;right:148.7px;text-align:right;">-4,277</div>
<div class="t" style="top:899.9px;font-size:11px;color:#000080;-webkit-text-stroke:0.45px #000080;right:100.1px;text-align:right;">-169</div>
<div class="t" style="top:899.9px;font-size:11px;color:#000080;-webkit-text-stroke:0.45px #000080;right:50.9px;text-align:right;">-1,500</div>
<div class="t" style="top:933.8px;font-size:11px;color:#000;letter-spacing:0.788px;left:424.7px;width:107.3px;overflow:hidden;">(Inc)/Dec in Net WC</div>
<div class="t" style="top:933.8px;font-size:11px;color:#000;right:246.7px;text-align:right;">115</div>
<div class="t" style="top:933.8px;font-size:11px;color:#000;right:197.9px;text-align:right;">195</div>
<div class="t" style="top:933.8px;font-size:11px;color:#000;right:148.7px;text-align:right;">-4</div>
<div class="t" style="top:933.8px;font-size:11px;color:#000;right:100.1px;text-align:right;">-340</div>
<div class="t" style="top:933.8px;font-size:11px;color:#000;right:50.9px;text-align:right;">0</div>
<div class="t" style="top:950.2px;font-size:11px;color:#000;letter-spacing:0.813px;left:424.7px;">(Inc)/Dec in Debt</div>
<div class="t" style="top:950.2px;font-size:11px;color:#000;right:246.7px;text-align:right;">-339</div>
<div class="t" style="top:950.2px;font-size:11px;color:#000;right:197.9px;text-align:right;">-269</div>
<div class="t" style="top:950.2px;font-size:11px;color:#000;right:148.7px;text-align:right;">-134</div>
<div class="t" style="top:950.2px;font-size:11px;color:#000;right:100.1px;text-align:right;">-111</div>
<div class="t" style="top:950.2px;font-size:11px;color:#000;right:50.9px;text-align:right;">0</div>
<div class="t" style="top:967.2px;font-size:11px;color:#000;letter-spacing:0.636px;left:424.7px;">Less : Interest Paid</div>
<div class="t" style="top:967.2px;font-size:11px;color:#000;right:246.7px;text-align:right;">286</div>
<div class="t" style="top:967.2px;font-size:11px;color:#000;right:197.9px;text-align:right;">200</div>
<div class="t" style="top:967.2px;font-size:11px;color:#000;right:148.7px;text-align:right;">208</div>
<div class="t" style="top:967.2px;font-size:11px;color:#000;right:100.1px;text-align:right;">277</div>
<div class="t" style="top:967.2px;font-size:11px;color:#000;right:50.9px;text-align:right;">284</div>
<div class="t" style="top:984.1px;font-size:11px;color:#000;letter-spacing:0.873px;left:459.1px;width:72.9px;overflow:hidden;">Dividend Paid</div>
<div class="t" style="top:984.1px;font-size:11px;color:#000;right:246.7px;text-align:right;">858</div>
<div class="t" style="top:984.1px;font-size:11px;color:#000;right:197.9px;text-align:right;">944</div>
<div class="t" style="top:984.1px;font-size:11px;color:#000;right:148.7px;text-align:right;">1,644</div>
<div class="t" style="top:984.1px;font-size:11px;color:#000;right:100.1px;text-align:right;">1,044</div>
<div class="t" style="top:984.1px;font-size:11px;color:#000;right:50.9px;text-align:right;">1,431</div>
<div class="t" style="top:1001.1px;font-size:11px;color:#000080;-webkit-text-stroke:0.45px #000080;letter-spacing:0.29px;left:424.7px;">CF from Fin. Activity</div>
<div class="t" style="top:1001.1px;font-size:11px;color:#000080;-webkit-text-stroke:0.45px #000080;right:246.7px;text-align:right;">-1,367</div>
<div class="t" style="top:1001.1px;font-size:11px;color:#000080;-webkit-text-stroke:0.45px #000080;right:197.9px;text-align:right;">-1,217</div>
<div class="t" style="top:1001.1px;font-size:11px;color:#000080;-webkit-text-stroke:0.45px #000080;right:148.7px;text-align:right;">-1,989</div>
<div class="t" style="top:1001.1px;font-size:11px;color:#000080;-webkit-text-stroke:0.45px #000080;right:100.1px;text-align:right;">-1,772</div>
<div class="t" style="top:1001.1px;font-size:11px;color:#000080;-webkit-text-stroke:0.45px #000080;right:50.9px;text-align:right;">-1,714</div>
<div class="t" style="top:1033.9px;font-size:11px;color:#000080;-webkit-text-stroke:0.45px #000080;letter-spacing:0.079px;left:424.7px;">Inc/Dec of Cash</div>
<div class="t" style="top:1033.9px;font-size:11px;color:#000080;-webkit-text-stroke:0.45px #000080;right:246.7px;text-align:right;">3,844</div>
<div class="t" style="top:1033.9px;font-size:11px;color:#000080;-webkit-text-stroke:0.45px #000080;right:197.9px;text-align:right;">4,954</div>
<div class="t" style="top:1033.9px;font-size:11px;color:#000080;-webkit-text-stroke:0.45px #000080;right:148.7px;text-align:right;">-2,947</div>
<div class="t" style="top:1033.9px;font-size:11px;color:#000080;-webkit-text-stroke:0.45px #000080;right:100.1px;text-align:right;">2,674</div>
<div class="t" style="top:1033.9px;font-size:11px;color:#000080;-webkit-text-stroke:0.45px #000080;right:50.9px;text-align:right;">-2,643</div>
<div class="t" style="top:1050.9px;font-size:11px;color:#000;letter-spacing:0.659px;left:424.7px;width:107.3px;overflow:hidden;">Add: Beginning Balance</div>
<div class="t" style="top:1050.9px;font-size:11px;color:#000;right:246.7px;text-align:right;">1,971</div>
<div class="t" style="top:1050.9px;font-size:11px;color:#000;right:197.9px;text-align:right;">5,815</div>
<div class="t" style="top:1050.9px;font-size:11px;color:#000;right:148.7px;text-align:right;">8,483</div>
<div class="t" style="top:1050.9px;font-size:11px;color:#000;right:100.1px;text-align:right;">5,535</div>
<div class="t" style="top:1050.9px;font-size:11px;color:#000;right:50.9px;text-align:right;">8,220</div>
<div class="t" style="top:1066.8px;font-size:11px;color:#000080;-webkit-text-stroke:0.45px #000080;letter-spacing:0.007px;left:424.7px;">Closing Balance</div>
<div class="t" style="top:1066.8px;font-size:11px;color:#000080;-webkit-text-stroke:0.45px #000080;right:246.7px;text-align:right;">5,815</div>
<div class="t" style="top:1066.8px;font-size:11px;color:#000080;-webkit-text-stroke:0.45px #000080;right:197.9px;text-align:right;">10,769</div>
<div class="t" style="top:1066.8px;font-size:11px;color:#000080;-webkit-text-stroke:0.45px #000080;right:148.7px;text-align:right;">5,536</div>
<div class="t" style="top:1066.8px;font-size:11px;color:#000080;-webkit-text-stroke:0.45px #000080;right:100.1px;text-align:right;">8,209</div>
<div class="t" style="top:1066.8px;font-size:11px;color:#000080;-webkit-text-stroke:0.45px #000080;right:50.9px;text-align:right;">5,577</div>
<div class="ln" style="left:422px;top:1083.85px;width:355.5px;height:1.3px"></div>
<div class="ln" style="left:50.6px;top:1099.85px;width:726.1999999999999px;height:1.3px"></div>
</body></html>
